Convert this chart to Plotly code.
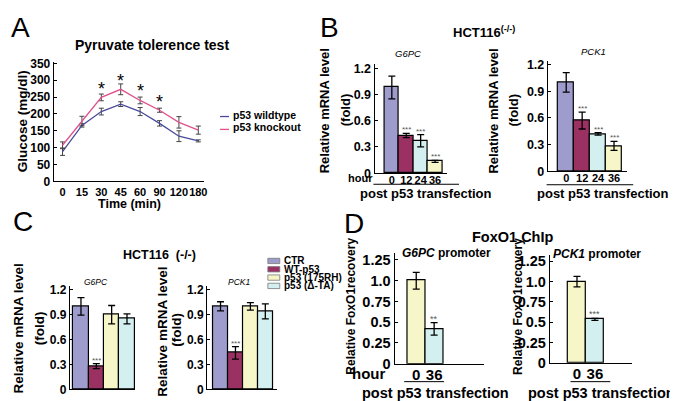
import plotly.graph_objects as go

# ---------------- data ----------------
# Panel A: pyruvate tolerance test
time_labels = ["0", "15", "30", "45", "60", "90", "120", "180"]
wt_glucose = [88, 166, 207, 229, 207, 172, 134, 120]
wt_err = [11, 5, 10, 7, 12, 8, 16, 3]
ko_glucose = [107, 179, 249, 273, 240, 211, 175, 152]
ko_err = [10, 14, 10, 16, 10, 6, 17, 12]
series_names = ["p53 wildtype", "p53 knockout"]
star_index = [2, 3, 4, 5]
star_y = [286, 310, 281, 246]

# Panel B: HCT116 (-/-) time course
b_hours = ["0", "12", "24", "36"]
b_g6pc = [0.98, 0.43, 0.37, 0.135]
b_g6pc_err = [0.13, 0.025, 0.07, 0.012]
b_pck1 = [1.0, 0.57, 0.42, 0.285]
b_pck1_err = [0.11, 0.095, 0.015, 0.05]
b_sig = ["", "***", "***", "***"]

# Panel C: p53 variants
c_groups = ["CTR", "WT-p53", "p53 (175RH)", "p53 (\u0394-TA)"]
c_g6pc = [1.0, 0.28, 0.90, 0.85]
c_g6pc_err = [0.105, 0.03, 0.11, 0.06]
c_pck1 = [1.0, 0.44, 1.0, 0.94]
c_pck1_err = [0.055, 0.075, 0.045, 0.09]
c_sig = ["", "***", "", ""]

# Panel D: FoxO1 ChIP
d_hours = ["0", "36"]
d_g6pc = [1.0, 0.42]
d_g6pc_err = [0.10, 0.075]
d_pck1 = [1.0, 0.535]
d_pck1_err = [0.065, 0.012]
d_g6pc_sig = ["", "**"]
d_pck1_sig = ["", "***"]

# ---------------- style ----------------
W, H = 678, 401
FONT = "Liberation Sans, Arial, sans-serif"
LAV, MAR, CYA, YEL = "#9e9ccc", "#9b3063", "#d3efef", "#f7f6c9"
WT_C, KO_C = "#4a4a9c", "#e0508c"
b_colors = [LAV, MAR, CYA, YEL]
c_colors = [LAV, MAR, YEL, CYA]
d_colors = [YEL, CYA]


def fx(px):
    return px / W


def fy(py):
    return 1 - py / H


fig = go.Figure()
annotations = []
shapes = []


def ann(text, x, y, size, weight="normal", style="normal", angle=0,
        xanchor="center", yanchor="middle", color="black", xref="paper",
        yref="paper", yshift=0):
    if xref == "paper":
        x = fx(x)
    if yref == "paper":
        y = fy(y)
    annotations.append(dict(
        text=text, x=x, y=y, xref=xref, yref=yref, showarrow=False,
        textangle=angle, xanchor=xanchor, yanchor=yanchor, yshift=yshift,
        font=dict(family=FONT, size=size, color=color, weight=weight, style=style)))


def xaxis(px0, px1, rng, anchor, tickvals=None, ticktext=None, size=11, standoff=0):
    d = dict(domain=[fx(px0), fx(px1)], range=rng, anchor=anchor,
             showline=True, linecolor="black", linewidth=1.2,
             showgrid=False, zeroline=False, fixedrange=True, ticks="")
    if tickvals is None:
        d.update(showticklabels=False)
    else:
        d.update(tickmode="array", tickvals=tickvals, ticktext=ticktext, tickangle=0,
                 ticklabelstandoff=standoff,
                 tickfont=dict(family=FONT, size=size, color="black", weight="bold"))
    return d


def yaxis(py_bottom, py_top, rng, anchor, tickvals, ticktext, size=12):
    return dict(domain=[fy(py_bottom), fy(py_top)], range=rng, anchor=anchor,
                showline=True, linecolor="black", linewidth=1.2,
                showgrid=False, zeroline=False, fixedrange=True,
                ticks="inside", ticklen=3, tickwidth=1, tickcolor="black",
                tickmode="array", tickvals=tickvals, ticktext=ticktext,
                tickfont=dict(family=FONT, size=size, color="black", weight="bold"))


def bars(values, errs, colors, xa, ya, sig, sig_size=8):
    xs = list(range(len(values)))
    fig.add_trace(go.Bar(
        x=xs, y=values, width=1, xaxis=xa, yaxis=ya, showlegend=False,
        marker=dict(color=colors, line=dict(color="black", width=1.2)),
        error_y=dict(type="data", array=errs, color="black", thickness=1.3, width=3.5)))
    for i, s in enumerate(sig):
        if s:
            ann(s, xs[i], values[i] + errs[i], sig_size, color="#555555",
                xref=xa, yref=ya, yanchor="bottom", yshift=-3)


# ---------------- Panel A ----------------
xA = list(range(len(time_labels)))
fig.add_trace(go.Scatter(
    x=xA, y=wt_glucose, mode="lines", name=series_names[0], showlegend=False,
    line=dict(color=WT_C, width=1.3), xaxis="x", yaxis="y",
    error_y=dict(type="data", array=wt_err, color="#444444", thickness=1, width=2.5)))
fig.add_trace(go.Scatter(
    x=xA, y=ko_glucose, mode="lines", name=series_names[1], showlegend=False,
    line=dict(color=KO_C, width=1.3), xaxis="x", yaxis="y",
    error_y=dict(type="data", array=ko_err, color="#444444", thickness=1, width=2.5)))
for i, yv in zip(star_index, star_y):
    ann("*", i, yv, 18, xref="x", yref="y", yshift=-4)

# legend A (drawn)
for k, (nm, col) in enumerate(zip(series_names, [WT_C, KO_C])):
    yy = 105 + k * 13.3
    shapes.append(dict(type="line", xref="paper", yref="paper", x0=fx(213), x1=fx(222),
                       y0=fy(yy + 2), y1=fy(yy + 2), line=dict(color=col, width=1.3)))
    ann(nm, 224, yy, 10.5, weight="bold", xanchor="left")

ann("Pyruvate tolerence test", 145, 33, 14, weight="bold")
ann("Glucose (mg/dl)", 14, 112, 13.5, weight="bold", angle=-90)
ann("Time (min)", 122, 197, 12.5, weight="bold")

# ---------------- Panel B ----------------
bars(b_g6pc, b_g6pc_err, b_colors, "x2", "y2", b_sig)
bars(b_pck1, b_pck1_err, b_colors, "x3", "y3", b_sig)
ann("HCT116<sup>(-/-)</sup>", 478, 20, 13, weight="bold")
ann("G6PC", 402, 42, 9.5, style="italic")
ann("PCK1", 588, 40, 9.5, style="italic")
for xc, fc in [(318, 339), (488, 508)]:
    ann("Relative mRNA level", xc, 101, 13, weight="bold", angle=-90)
    ann("(fold)", fc, 101, 13, weight="bold", angle=-90)
ann("hour", 354, 170.5, 11, weight="bold")
shapes.append(dict(type="line", xref="paper", yref="paper", x0=fx(367), x1=fx(453),
                   y0=fy(177), y1=fy(177), line=dict(color="black", width=1)))
shapes.append(dict(type="line", xref="paper", yref="paper", x0=fx(541), x1=fx(628),
                   y0=fy(177.5), y1=fy(177.5), line=dict(color="black", width=1)))
ann("post p53 transfection", 420, 187, 13, weight="bold")
ann("post p53 transfection", 598, 187, 13, weight="bold")

# ---------------- Panel C ----------------
bars(c_g6pc, c_g6pc_err, c_colors, "x4", "y4", c_sig)
bars(c_pck1, c_pck1_err, c_colors, "x5", "y5", c_sig)
ann("HCT116  (-/-)", 152, 250, 12.5, weight="bold")
ann("G6PC", 88, 278, 8.5, style="italic")
ann("PCK1", 232, 278, 8.5, style="italic")
ann("Relative mRNA level", 10, 326, 13.5, weight="bold", angle=-90)
ann("(fold)", 32, 326, 13.5, weight="bold", angle=-90)
ann("Relative mRNA level", 155, 329, 13.5, weight="bold", angle=-90)
ann("(fold)", 169, 327, 13.5, weight="bold", angle=-90)
# legend C (drawn)
for k, (nm, col) in enumerate(zip(c_groups, c_colors)):
    yy = 256 + k * 8.6
    shapes.append(dict(type="rect", xref="paper", yref="paper", x0=fx(261), x1=fx(273),
                       y0=fy(yy + 3), y1=fy(yy - 2.5), fillcolor=col,
                       line=dict(color="#777777", width=0.8)))
    ann(nm, 275, yy, 10, weight="bold", xanchor="left")

# ---------------- Panel D ----------------
bars(d_g6pc, d_g6pc_err, d_colors, "x6", "y6", d_g6pc_sig, sig_size=9)
bars(d_pck1, d_pck1_err, d_colors, "x7", "y7", d_pck1_sig, sig_size=9)
ann("FoxO1 ChIp", 507, 232, 14.5, weight="bold")
ann("<i>G6PC</i> promoter", 440, 248, 12, weight="bold")
ann("<i>PCK1</i> promoter", 592, 249, 12, weight="bold")
ann("Relative FoxO1recovery", 345, 303, 12, weight="bold", angle=-90)
ann("Relative FoxO1recovery", 512, 303, 12, weight="bold", angle=-90)
ann("hour", 362, 373, 15, weight="bold")
shapes.append(dict(type="line", xref="paper", yref="paper", x0=fx(398), x1=fx(438),
                   y0=fy(381), y1=fy(381), line=dict(color="black", width=1)))
shapes.append(dict(type="line", xref="paper", yref="paper", x0=fx(565), x1=fx(605),
                   y0=fy(381), y1=fy(381), line=dict(color="black", width=1)))
ann("post p53 transfection", 429, 393, 14.5, weight="bold")
ann("post p53 transfection", 596, 393, 14.5, weight="bold")

# panel letters
ann("A", 13, 15, 28)
ann("B", 323, 15, 28)
ann("C", 15, 216, 28)
ann("D", 348, 218, 28)

# ---------------- axes ----------------
bc_ticks = [0, 0.3, 0.6, 0.9, 1.2]
bc_text = ["0", "0.3", "0.6", "0.9", "1.2"]
d_ticks = [0, 0.25, 0.5, 0.75, 1.0, 1.25]
d_text = ["0", "0.25", "0.5", "0.75", "1.0", "1.25"]
a_ticks = list(range(0, 351, 50))

layout_axes = dict(
    xaxis=xaxis(46, 197, [-0.45, 7.3], "y", xA, time_labels, 11),
    yaxis=yaxis(174, 50.3, [0, 355], "x", a_ticks, [str(v) for v in a_ticks], 12),
    xaxis2=xaxis(368.3, 441, [-1.19, 3.83], "y2", list(range(4)), b_hours, 11, -3),
    yaxis2=yaxis(165.5, 52.7, [0, 1.248], "x2", bc_ticks, bc_text, 12.5),
    xaxis3=xaxis(542.3, 622, [-1.15, 3.83], "y3", list(range(4)), b_hours, 11, -3),
    yaxis3=yaxis(163.5, 50, [0, 1.236], "x3", bc_ticks, bc_text, 12.5),
    xaxis4=xaxis(62.3, 128, [-0.714, 3.55], "y4"),
    yaxis4=yaxis(389, 281.7, [0, 1.25], "x4", bc_ticks, bc_text, 12),
    xaxis5=xaxis(200, 270, [-0.9, 3.77], "y5"),
    yaxis5=yaxis(389, 281.7, [0, 1.25], "x5", bc_ticks, bc_text, 12),
    xaxis6=xaxis(388.3, 478, [-1.21, 3.78], "y6", list(range(2)), d_hours, 15, -3),
    yaxis6=yaxis(362.5, 248.3, [0, 1.331], "x6", d_ticks, d_text, 14.5),
    xaxis7=xaxis(544.3, 627, [-1.51, 3.08], "y7", list(range(2)), d_hours, 15, -3),
    yaxis7=yaxis(361.5, 250, [0, 1.33], "x7", d_ticks, d_text, 14.5),
)

fig.update_layout(
    width=W, height=H, margin=dict(l=0, r=0, t=0, b=0),
    paper_bgcolor="white", plot_bgcolor="white",
    font=dict(family=FONT, color="black"),
    bargap=0, showlegend=False,
    annotations=annotations, shapes=shapes,
    **layout_axes,
)

fig.write_html("out.html")
